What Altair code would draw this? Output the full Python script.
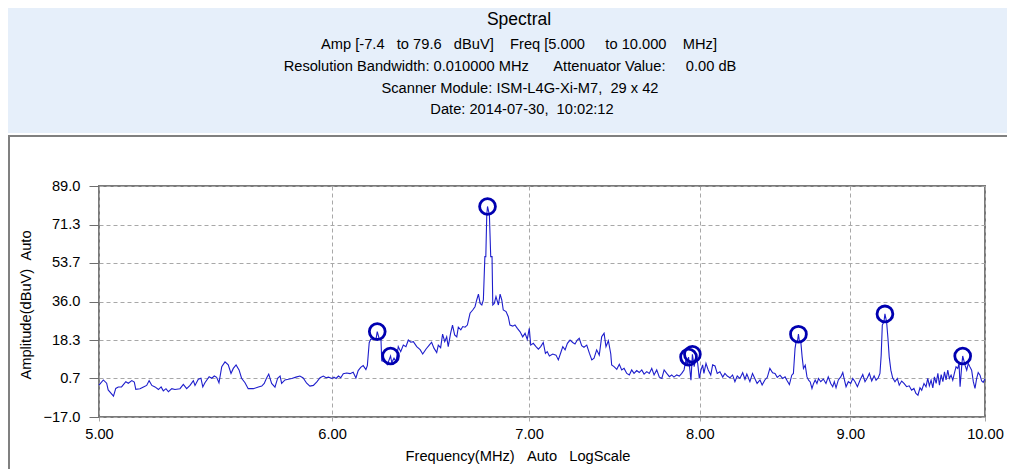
import altair as alt
import pandas as pd

# ---------------- data ----------------
freq_mhz = [
    5.000, 5.017, 5.030, 5.036, 5.057, 5.066, 5.076, 5.089, 5.106, 5.116,
    5.130, 5.140, 5.146, 5.163, 5.177, 5.190, 5.200, 5.211, 5.224, 5.238,
    5.249, 5.258, 5.269, 5.279, 5.293, 5.306, 5.327, 5.341, 5.355, 5.369,
    5.383, 5.390, 5.404, 5.415, 5.423, 5.432, 5.450, 5.461, 5.472, 5.482,
    5.492, 5.504, 5.518, 5.532, 5.544, 5.554, 5.566, 5.579, 5.590, 5.605,
    5.619, 5.642, 5.664, 5.679, 5.690, 5.700, 5.710, 5.723, 5.738, 5.750,
    5.761, 5.768, 5.783, 5.798, 5.814, 5.833, 5.851, 5.866, 5.882, 5.897,
    5.913, 5.929, 5.944, 5.959, 5.972, 5.983, 6.000, 6.009, 6.019, 6.030,
    6.041, 6.053, 6.069, 6.085, 6.100, 6.113, 6.124, 6.136, 6.148, 6.161,
    6.168, 6.177, 6.184, 6.197, 6.210, 6.216, 6.226, 6.234, 6.238, 6.254,
    6.265, 6.281, 6.287, 6.298, 6.308, 6.319, 6.331, 6.344, 6.357, 6.369,
    6.381, 6.394, 6.411, 6.428, 6.441, 6.458, 6.474, 6.486, 6.498, 6.512,
    6.520, 6.532, 6.542, 6.553, 6.563, 6.571, 6.583, 6.593, 6.604, 6.615,
    6.623, 6.636, 6.646, 6.658, 6.670, 6.684, 6.698, 6.710, 6.719, 6.728,
    6.737, 6.746, 6.754, 6.762, 6.767, 6.772, 6.776, 6.786, 6.793, 6.800,
    6.804, 6.812, 6.821, 6.834, 6.843, 6.852, 6.860, 6.875, 6.887, 6.896,
    6.911, 6.923, 6.936, 6.951, 6.965, 6.978, 6.990, 7.001, 7.009, 7.023,
    7.038, 7.051, 7.064, 7.078, 7.090, 7.100, 7.112, 7.131, 7.149, 7.162,
    7.176, 7.187, 7.200, 7.213, 7.228, 7.243, 7.256, 7.269, 7.280, 7.294,
    7.307, 7.323, 7.338, 7.352, 7.365, 7.380, 7.395, 7.409, 7.423, 7.434,
    7.448, 7.462, 7.467, 7.481, 7.497, 7.512, 7.526, 7.540, 7.556, 7.571,
    7.585, 7.599, 7.615, 7.630, 7.645, 7.659, 7.675, 7.690, 7.705, 7.719,
    7.735, 7.751, 7.766, 7.780, 7.796, 7.812, 7.826, 7.840, 7.857, 7.873,
    7.888, 7.902, 7.914, 7.922, 7.930, 7.945, 7.954, 7.965, 7.976, 7.987,
    7.997, 8.008, 8.018, 8.026, 8.039, 8.053, 8.069, 8.081, 8.096, 8.110,
    8.127, 8.145, 8.159, 8.174, 8.191, 8.208, 8.223, 8.238, 8.255, 8.273,
    8.288, 8.300, 8.320, 8.337, 8.352, 8.367, 8.386, 8.400, 8.418, 8.434,
    8.451, 8.469, 8.485, 8.500, 8.518, 8.536, 8.552, 8.567, 8.581, 8.597,
    8.608, 8.619, 8.626, 8.635, 8.642, 8.649, 8.658, 8.667, 8.676, 8.688,
    8.700, 8.711, 8.722, 8.734, 8.745, 8.756, 8.768, 8.779, 8.794, 8.812,
    8.830, 8.846, 8.863, 8.877, 8.888, 8.900, 8.916, 8.933, 8.947, 8.956,
    8.970, 8.986, 9.003, 9.017, 9.033, 9.050, 9.069, 9.088, 9.104, 9.121,
    9.135, 9.152, 9.169, 9.183, 9.199, 9.211, 9.220, 9.228, 9.240, 9.247,
    9.259, 9.269, 9.278, 9.290, 9.303, 9.320, 9.337, 9.351, 9.369, 9.386,
    9.405, 9.424, 9.442, 9.459, 9.474, 9.489, 9.504, 9.517, 9.534, 9.549,
    9.562, 9.574, 9.587, 9.600, 9.612, 9.625, 9.638, 9.650, 9.663, 9.676,
    9.688, 9.700, 9.713, 9.725, 9.738, 9.751, 9.763, 9.776, 9.789, 9.799,
    9.807, 9.820, 9.827, 9.845, 9.858, 9.870, 9.883, 9.896, 9.909, 9.922,
    9.935, 9.947, 9.961, 9.974, 9.986, 10.000,
]
amp_dbuv = [
    -2.4, 0.0, -1.5, -4.6, -7.4, -3.9, -3.2, -3.2, -0.8, -1.5,
    -0.3, -1.0, -4.3, -4.0, -3.2, -2.5, -0.3, -2.5, -3.2, -4.4,
    -3.2, -5.0, -4.0, -5.4, -4.0, -4.4, -4.0, -2.0, -4.0, -2.5,
    -0.3, -2.5, 0.3, 0.8, -3.2, -1.3, 1.5, 0.8, 1.8, 1.2,
    -1.3, 6.1, 8.3, 6.9, 3.0, 5.3, 6.9, 4.6, 0.8, -1.3,
    -4.0, -4.0, -3.2, -2.8, -1.6, 0.8, 2.7, -1.6, -3.3, 0.8,
    1.8, -1.6, 0.0, 0.3, 0.7, 1.3, 1.8, 0.9, -1.5, -2.8,
    -2.5, -0.9, 1.0, 1.8, 1.0, 1.3, 0.7, 1.3, 0.7, 1.8,
    1.0, 2.9, 3.2, 2.9, 3.5, 0.9, 4.3, 5.8, 6.6, 4.8,
    6.6, 17.1, 18.7, 18.7, 18.7, 22.2, 18.7, 18.7, 8.8, 8.4,
    7.0, 11.0, 8.0, 10.0, 8.4, 15.3, 13.0, 16.0, 15.3, 18.3,
    17.3, 17.6, 15.3, 13.9, 11.9, 14.2, 16.0, 17.3, 14.6, 12.6,
    16.0, 14.8, 21.0, 17.6, 19.8, 15.3, 21.4, 25.2, 20.7, 19.8,
    24.2, 23.0, 24.5, 24.2, 25.2, 30.6, 32.1, 33.6, 36.7, 39.4,
    35.1, 34.4, 36.7, 56.6, 56.6, 75.7, 79.6, 75.7, 56.6, 56.6,
    34.4, 35.1, 38.2, 34.4, 39.4, 36.7, 32.1, 31.4, 29.0, 25.2,
    24.7, 25.2, 23.7, 22.1, 19.8, 21.4, 18.6, 23.7, 16.0, 16.8,
    15.3, 14.1, 15.3, 17.2, 12.2, 13.0, 11.0, 11.9, 11.4, 9.2,
    12.6, 15.3, 13.8, 16.8, 18.3, 17.2, 16.5, 18.3, 19.1, 15.7,
    15.0, 16.0, 12.3, 9.2, 10.0, 13.8, 11.4, 19.8, 21.4, 15.3,
    18.0, 11.9, 6.9, 6.1, 4.9, 7.2, 4.6, 5.3, 3.0, 2.3,
    4.6, 3.0, 4.3, 3.4, 4.6, 2.7, 3.8, 3.0, 5.3, 2.3,
    4.6, 1.3, 0.7, 4.6, 3.0, 1.5, 2.3, 1.3, 2.3, 1.8,
    3.0, 4.6, 9.2, 6.9, 10.5, -0.1, 11.8, 6.1, 10.7, 7.6,
    0.7, 4.6, 6.9, 3.0, 7.6, 4.6, 2.3, 6.9, 6.4, 3.0,
    3.8, 1.3, 3.0, 1.8, 1.0, 2.3, -0.8, 1.8, 0.7, 3.3,
    0.3, 2.7, -0.8, 3.0, 0.7, -1.6, 0.0, -2.3, 0.0, 1.2,
    5.3, 3.3, 3.0, 1.2, 2.2, 0.7, 1.4, -0.5, -2.1, 2.2,
    3.0, 14.4, 17.5, 17.5, 21.0, 17.5, 17.5, 10.6, 5.3, 6.8,
    1.4, -0.1, -0.9, -3.9, -1.6, 0.0, -1.6, 0.7, -0.8, 0.4,
    -1.6, 1.4, -1.6, -3.1, -0.8, -3.6, 0.0, 1.4, 3.4, 0.7,
    -3.1, -0.8, -1.6, 0.7, -0.8, -3.1, 0.0, 2.5, -0.8, 1.0,
    3.0, -0.5, 1.9, -0.1, 1.0, 3.0, 11.4, 25.2, 26.7, 30.3,
    26.7, 19.0, 10.6, 4.5, 1.0, -0.8, 0.7, -2.4, -0.5, -1.6,
    -3.1, -2.7, -4.7, -3.9, -6.2, -7.0, -3.6, -4.7, -1.6, -3.1,
    0.7, -2.7, -0.1, -3.6, 1.4, -1.6, 3.0, -2.4, 2.5, -0.8,
    3.7, 0.0, 4.5, 0.7, 2.2, -0.1, 3.0, 6.0, 5.3, 7.6,
    -3.1, 6.8, 11.0, 6.8, 4.5, 7.6, 6.0, 4.5, -0.8, -3.9,
    0.7, 3.4, 2.2, -0.5, -1.1, 0.5,
]
marker_freq = [6.216, 6.281, 6.776, 7.930, 7.954, 8.642, 9.247, 9.827]
marker_amp = [22.2, 11.0, 79.6, 10.5, 11.8, 21.0, 30.3, 11.0]

x_ticks = [5, 6, 7, 8, 9, 10]
y_ticks = [-17.0, 0.667, 18.333, 36.0, 53.667, 71.333, 89.0]

title_text = "Spectral"
header_lines = [
    "Amp [-7.4   to 79.6   dBuV]    Freq [5.000     to 10.000    MHz]",
    "Resolution Bandwidth: 0.010000 MHz      Attenuator Value:     0.00 dB",
    "Scanner Module: ISM-L4G-Xi-M7,  29 x 42",
    "Date: 2014-07-30,  10:02:12",
]
x_title = "Frequency(MHz)   Auto   LogScale"
y_title = "Amplitude(dBuV)  Auto"

# ---------------- styling ----------------
FONT = "Liberation Sans"
FS = 14.67
W, H = 886, 231
PAD = {"left": 91, "top": 178, "right": 22, "bottom": 52}

spec = pd.DataFrame({"freq": freq_mhz, "amp": amp_dbuv})
marks = pd.DataFrame({"freq": marker_freq, "amp": marker_amp})
one = pd.DataFrame({"k": [0]})

xs = alt.Scale(type="log", domain=[5, 10], nice=False)
ys = alt.Scale(domain=[-17, 89], nice=False, zero=False)

xaxis = alt.Axis(values=x_ticks, tickCount=20, format=".2f", title=None,
                 grid=True, gridColor="#A8A8A8", gridDash=[4, 3], gridWidth=1,
                 domain=False, ticks=True, tickColor="#A8A8A8",
                 tickDash=[4, 3], tickSize=6, labelPadding=3,
                 labelFlush=False, labelOverlap=False,
                 labelFont=FONT, labelFontSize=FS, labelColor="#000000")
yaxis = alt.Axis(values=y_ticks, tickCount=12, format=".1f", title=None,
                 grid=True, gridColor="#A8A8A8", gridDash=[4, 3], gridWidth=1,
                 domain=False, tickColor="#6E6E6E", tickSize=10,
                 labelPadding=9, labelFlush=False, labelOverlap=False,
                 labelFont=FONT, labelFontSize=FS, labelColor="#000000")

header_bg = alt.Chart(one).mark_rect(color="#E6EFFA").encode(
    x=alt.value(-91), x2=alt.value(908), y=alt.value(-178), y2=alt.value(-53))
frame_left = alt.Chart(one).mark_rule(color="#808080", strokeWidth=2).encode(
    x=alt.value(-90), y=alt.value(-50), y2=alt.value(283))
frame_top = alt.Chart(one).mark_rule(color="#808080", strokeWidth=2).encode(
    x=alt.value(-91), x2=alt.value(908), y=alt.value(-50))

line = alt.Chart(spec).mark_line(color="#1E1ECC", strokeWidth=1.1).encode(
    x=alt.X("freq:Q", scale=xs, axis=xaxis),
    y=alt.Y("amp:Q", scale=ys, axis=yaxis),
    order="freq:Q")
pts = alt.Chart(marks).mark_point(shape="circle", filled=False, size=250,
                                  strokeWidth=2.8, color="#0000B0",
                                  opacity=1).encode(
    x=alt.X("freq:Q", scale=xs), y=alt.Y("amp:Q", scale=ys))


def txt(s, x, y, size=FS, angle=0):
    return alt.Chart(one).mark_text(font=FONT, fontSize=size, color="#000000",
                                    align="center", baseline="middle",
                                    angle=angle).encode(
        x=alt.value(x), y=alt.value(y),
        text=alt.value(s.replace(" ", "\u00a0")))


texts = [
    txt(title_text, 420, -166, size=17.5),
    txt(header_lines[0], 420, -141),
    txt(header_lines[1], 411, -119),
    txt(header_lines[2], 421, -97),
    txt(header_lines[3], 423, -76),
    txt(x_title, 419, 271),
    txt(y_title, -72, 119, angle=270),
]

chart = alt.layer(header_bg, frame_left, frame_top, line, pts, *texts).properties(
    width=W, height=H, padding=PAD,
    autosize=alt.AutoSizeParams(type="none"),
).configure_view(stroke="#7A7A7A", strokeWidth=2)

chart.save("out.html", embed_options={"renderer": "svg", "actions": False})
